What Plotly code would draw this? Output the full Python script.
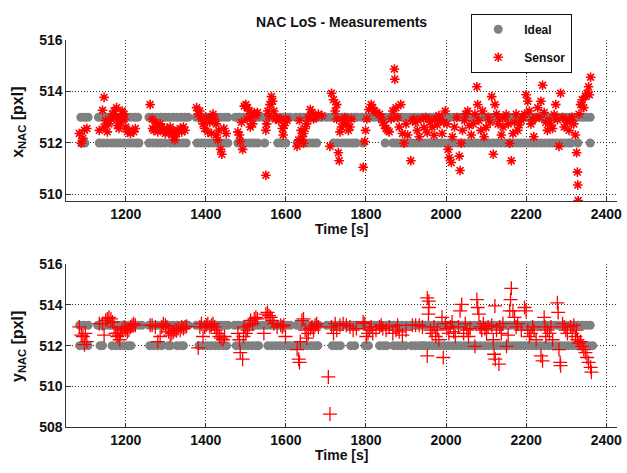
import plotly.graph_objects as go

# ---------------- data ----------------
x_ticks = [1200, 1400, 1600, 1800, 2000, 2200, 2400]
y_ticks_top = [510, 512, 514, 516]
y_ticks_bot = [508, 510, 512, 514, 516]

# Ideal x_NAC: epochs where the ideal value is 513 / 512
ideal_x_513_t = [1088, 1098, 1106,
    1132, 1142, 1152, 1162, 1172, 1182, 1192, 1202, 1212, 1222, 1230,
    1258, 1268, 1278, 1288, 1298, 1308, 1318, 1328, 1338, 1348, 1356,
    1376, 1386, 1396, 1406, 1416, 1426, 1436, 1446, 1455,
    1474, 1484, 1494, 1504, 1514, 1524, 1534,
    1545, 1555, 1565, 1575, 1585, 1595, 1605, 1611,
    1625, 1635, 1645, 1655, 1665, 1675, 1685, 1690,
    1702, 1712, 1722, 1732, 1742, 1752, 1762, 1772, 1778,
    1790, 1800, 1810, 1820, 1830, 1840, 1850, 1860, 1870, 1880, 1890, 1900,
    1910, 1920, 1930, 1940, 1950, 1960, 1970, 1980, 1990, 2000, 2010, 2020,
    2030, 2040, 2050, 2060, 2070, 2080, 2090, 2100, 2110, 2120, 2130, 2140,
    2150, 2160, 2170, 2180, 2190, 2200, 2210, 2220, 2230, 2240, 2250, 2260,
    2270, 2280, 2290, 2300, 2310, 2320, 2330, 2340, 2350, 2360]
ideal_x_512_t = [1090, 1098,
    1134, 1144, 1154,
    1166, 1176, 1186, 1196, 1206, 1216, 1226, 1233,
    1258, 1268, 1278, 1288, 1298,
    1312, 1322, 1332, 1342, 1351,
    1378, 1388, 1398, 1408, 1418, 1428, 1438, 1448, 1455,
    1480, 1490, 1500, 1510, 1520, 1530,
    1547,
    1580, 1590, 1600,
    1628, 1638, 1648, 1658, 1668, 1677,
    1719, 1729, 1739, 1749, 1759, 1769, 1776,
    1793, 1848,
    1867, 1877, 1887, 1897, 1907, 1917, 1927, 1937, 1947, 1957, 1967, 1977,
    1987, 1997, 2007, 2017, 2027, 2037, 2047, 2057, 2067, 2077, 2087, 2097,
    2107, 2117, 2127, 2137, 2147, 2157, 2167, 2177, 2187, 2197, 2207, 2217,
    2227, 2237, 2247, 2257, 2267, 2277, 2287, 2297, 2307, 2312,
    2329, 2360]

# Ideal y_NAC
ideal_y_513_t = [1085, 1095, 1106,
    1130, 1140, 1150, 1160, 1170, 1180, 1190, 1200, 1210, 1220, 1230, 1240,
    1258, 1268, 1278, 1288, 1298, 1308, 1318, 1328, 1338, 1348, 1356,
    1376, 1386, 1396, 1406, 1416, 1426, 1436, 1446, 1455,
    1472, 1482, 1492, 1502, 1512, 1522, 1532,
    1542, 1552, 1562, 1572, 1582, 1592, 1602, 1611,
    1628, 1638, 1648, 1658, 1668, 1678, 1682,
    1702, 1712, 1722, 1732, 1742, 1752, 1762, 1772, 1778,
    1790, 1800, 1810, 1820, 1830, 1840, 1850, 1860, 1870, 1880, 1890, 1900,
    1910, 1920, 1930, 1940, 1950, 1960, 1970, 1980, 1990, 2000, 2010, 2020,
    2030, 2040, 2050, 2060, 2070, 2080, 2090, 2100, 2110, 2120, 2130, 2140,
    2150, 2160, 2170, 2180, 2190, 2200, 2210, 2220, 2230, 2240, 2250, 2260,
    2270, 2280, 2290, 2300, 2310, 2320, 2330, 2340, 2350, 2360]
ideal_y_512_t = [1085, 1095, 1106,
    1136, 1142,
    1166, 1176, 1186, 1196, 1206, 1213,
    1260, 1270, 1280, 1290,
    1306, 1312,
    1328, 1338, 1344,
    1383, 1393, 1403, 1413, 1423, 1433, 1443, 1452,
    1476, 1486, 1496, 1506, 1516, 1526, 1532,
    1555, 1565, 1575, 1585, 1595, 1605, 1611,
    1624, 1634, 1644, 1654, 1664, 1674, 1680,
    1716, 1726, 1736,
    1762, 1772,
    1798, 1806,
    1834, 1844, 1852,
    1869, 1879, 1889, 1898,
    1914, 1924, 1934, 1942,
    1946, 1956, 1966, 1976, 1986, 1996, 2006, 2016, 2026, 2036, 2046, 2056,
    2066, 2076, 2086, 2096, 2106, 2116, 2126, 2136, 2146, 2156, 2166, 2176,
    2186, 2196, 2206, 2216, 2226, 2236, 2246, 2256, 2266, 2276, 2286, 2296,
    2306, 2316, 2326, 2336, 2346, 2356, 2366]

# Sensor x_NAC: (time [s], value [pxl])
sensor_x = [
    (1084, 512.37), (1089, 511.99), (1093, 512.18), (1097, 512.50), (1103, 512.56),
    (1134, 512.49), (1142, 513.27), (1146, 513.77), (1146, 512.62), (1150, 512.87),
    (1154, 512.43), (1158, 512.74), (1163, 512.93), (1167, 513.12), (1171, 513.24),
    (1175, 512.99), (1177, 513.37), (1179, 512.68), (1183, 512.56), (1185, 512.99),
    (1187, 512.80), (1191, 513.24), (1196, 513.12), (1196, 512.93), (1200, 512.62),
    (1204, 512.43), (1208, 512.49), (1212, 512.37), (1220, 512.43), (1224, 512.56),
    (1261, 513.49), (1266, 512.93), (1267, 512.56), (1270, 512.49), (1274, 512.80),
    (1278, 512.66), (1280, 512.43), (1286, 512.74), (1290, 512.62), (1294, 512.49),
    (1299, 512.37), (1303, 512.56), (1307, 512.43), (1311, 512.62), (1315, 512.31),
    (1319, 512.49), (1322, 512.12), (1323, 512.24), (1327, 512.37), (1331, 512.49),
    (1336, 512.56), (1340, 512.43), (1344, 512.62), (1348, 512.49),
    (1377, 513.37), (1381, 513.12), (1385, 513.24), (1389, 512.93), (1393, 512.74),
    (1397, 512.56), (1401, 512.99), (1405, 512.43), (1410, 512.80), (1414, 512.99),
    (1414, 512.37), (1418, 513.12), (1422, 512.93), (1426, 512.31), (1426, 512.74),
    (1430, 512.12), (1432, 512.49), (1437, 511.75), (1440, 511.56), (1445, 512.56),
    (1451, 512.37),
    (1480, 512.43), (1484, 512.31), (1486, 512.06), (1489, 512.80), (1492, 511.75),
    (1496, 513.43), (1500, 513.49), (1503, 512.93), (1504, 513.37), (1508, 513.24),
    (1511, 512.62), (1512, 512.99), (1517, 512.74), (1521, 513.18), (1525, 513.06),
    (1529, 513.18),
    (1550, 510.75), (1550, 512.49), (1552, 512.74), (1555, 513.24), (1558, 513.06),
    (1560, 513.49), (1564, 513.80), (1567, 513.62), (1570, 513.24), (1574, 512.93),
    (1578, 512.99), (1582, 512.87), (1587, 512.93), (1591, 512.56), (1593, 512.31),
    (1596, 512.68), (1600, 512.93), (1603, 512.87),
    (1628, 511.87), (1632, 512.12), (1634, 512.87), (1638, 512.49), (1641, 512.24),
    (1644, 511.99), (1644, 512.37), (1648, 512.56), (1652, 512.74), (1656, 512.99),
    (1661, 513.30), (1665, 513.18), (1669, 512.93), (1673, 512.99), (1681, 513.12),
    (1690, 513.06),
    (1710, 511.87), (1714, 513.93), (1719, 513.68), (1723, 513.24), (1727, 513.49),
    (1727, 512.93), (1731, 511.62), (1733, 511.31), (1735, 512.43), (1739, 512.62),
    (1743, 512.87), (1747, 512.99), (1751, 512.74), (1756, 512.49), (1760, 512.62),
    (1764, 512.93),
    (1793, 511.06), (1797, 512.06), (1799, 512.49), (1802, 512.93), (1807, 513.30),
    (1813, 513.49), (1817, 513.37), (1821, 513.24), (1825, 513.18), (1834, 513.12),
    (1838, 512.99), (1842, 512.80), (1846, 512.68), (1850, 512.56), (1854, 512.49),
    (1858, 512.43), (1863, 512.93), (1867, 513.24), (1871, 514.87), (1872, 514.47),
    (1875, 513.37), (1879, 512.99), (1883, 512.62), (1887, 513.49), (1891, 512.37),
    (1895, 511.99), (1900, 512.74), (1904, 512.31), (1912, 511.31), (1916, 512.87),
    (1920, 512.93), (1924, 512.80), (1928, 512.49), (1933, 512.24), (1937, 512.93),
    (1945, 512.60), (1949, 512.99), (1953, 512.40), (1957, 512.93), (1961, 512.80),
    (1965, 512.62), (1970, 512.30), (1974, 512.93), (1978, 512.70), (1982, 513.06),
    (1986, 512.90), (1990, 512.37), (1994, 512.80),
    (1998, 513.24), (2002, 512.74), (2005, 511.75), (2008, 511.43), (2013, 511.24),
    (2016, 512.24), (2021, 512.62), (2027, 512.99), (2033, 511.49), (2035, 510.93),
    (2038, 511.99), (2041, 512.49), (2046, 512.87), (2049, 513.12), (2054, 513.24),
    (2058, 512.68), (2063, 512.31), (2068, 512.74), (2072, 513.12), (2077, 514.18),
    (2079, 513.49), (2082, 512.87), (2087, 512.49), (2091, 513.24), (2095, 512.24),
    (2100, 512.60), (2105, 513.00), (2110, 512.80),
    (2114, 513.80), (2118, 511.56), (2122, 513.49), (2126, 513.12), (2130, 512.74),
    (2134, 512.93), (2138, 512.31), (2142, 512.62), (2147, 512.99), (2150, 513.10),
    (2155, 512.74), (2159, 511.99), (2163, 511.31), (2167, 512.37), (2171, 512.80),
    (2175, 513.12), (2179, 512.49), (2183, 512.70), (2188, 512.87), (2192, 513.00),
    (2196, 513.12), (2200, 513.87), (2204, 513.62), (2208, 513.24), (2212, 512.74),
    (2216, 512.90), (2219, 512.24), (2225, 512.99), (2229, 513.37), (2233, 513.00),
    (2237, 513.62), (2241, 514.24), (2245, 513.18), (2249, 512.80), (2253, 512.49),
    (2258, 512.87), (2262, 512.70), (2266, 512.56), (2270, 513.10), (2274, 513.49),
    (2278, 512.90), (2282, 511.87), (2286, 513.93), (2291, 512.99), (2295, 512.62),
    (2299, 512.93), (2303, 512.80), (2307, 512.49), (2311, 512.90), (2315, 513.00),
    (2319, 512.74), (2323, 512.31), (2326, 511.62), (2328, 510.87), (2329, 510.37),
    (2330, 509.77), (2332, 513.12), (2336, 513.49), (2340, 513.68), (2344, 513.37),
    (2348, 513.80), (2352, 513.93), (2356, 514.18), (2358, 513.87), (2361, 514.55),
]

# Sensor y_NAC: (time [s], value [pxl])
sensor_y = [
    (1084, 512.92), (1089, 512.52), (1093, 512.45), (1097, 512.05), (1099, 512.60),
    (1103, 512.20),
    (1134, 513.08), (1142, 513.08), (1146, 512.52), (1150, 513.24), (1154, 513.31),
    (1158, 513.39), (1163, 513.31), (1167, 513.16), (1171, 512.92), (1175, 512.60),
    (1179, 512.45), (1179, 512.60), (1183, 512.52), (1185, 512.29), (1187, 512.60),
    (1191, 512.76), (1196, 512.92), (1200, 512.84), (1204, 512.68), (1208, 512.76),
    (1212, 512.92), (1216, 513.00), (1220, 513.08), (1224, 513.00),
    (1261, 513.00), (1266, 513.00), (1274, 512.92), (1280, 512.20), (1286, 512.45),
    (1290, 512.92), (1294, 513.08), (1299, 513.00), (1303, 512.92), (1307, 512.68),
    (1311, 512.52), (1315, 512.60), (1319, 512.68), (1323, 512.76), (1327, 512.73),
    (1331, 512.84), (1336, 512.76), (1340, 512.92), (1344, 512.84), (1348, 512.92),
    (1352, 512.95),
    (1381, 511.89), (1385, 512.92), (1389, 513.08), (1393, 512.45), (1397, 512.92),
    (1401, 513.00), (1405, 513.08), (1410, 512.92), (1414, 513.00), (1418, 513.08),
    (1422, 512.92), (1426, 512.76), (1430, 512.60), (1434, 512.45), (1438, 512.37),
    (1443, 512.29), (1447, 512.45),
    (1480, 512.60), (1484, 512.29), (1486, 511.66), (1492, 511.34), (1494, 512.45),
    (1496, 512.92), (1500, 512.60), (1504, 512.76), (1508, 513.00), (1512, 513.24),
    (1517, 513.08), (1521, 513.31), (1525, 513.39), (1529, 513.31),
    (1545, 512.60), (1550, 513.55), (1554, 513.63), (1558, 513.47), (1562, 513.39),
    (1566, 513.24), (1570, 513.08), (1578, 512.92), (1587, 513.00), (1591, 512.92),
    (1595, 513.00), (1599, 512.45),
    (1628, 511.81), (1632, 511.34), (1634, 511.18), (1636, 512.20), (1640, 513.24),
    (1644, 513.31), (1648, 512.76), (1652, 512.37), (1656, 512.60), (1661, 512.84),
    (1665, 512.92), (1669, 512.76), (1673, 513.00), (1677, 513.08), (1681, 512.92),
    (1706, 510.47), (1710, 508.65),
    (1714, 512.92), (1719, 512.60), (1723, 513.08), (1727, 512.76), (1735, 513.00),
    (1743, 513.08), (1751, 513.00), (1760, 512.92), (1768, 512.76), (1776, 512.84),
    (1793, 513.16), (1797, 513.08), (1801, 512.45), (1805, 512.60), (1809, 512.76),
    (1813, 512.92), (1817, 512.60), (1825, 512.76), (1834, 512.92), (1838, 513.00),
    (1842, 512.84), (1850, 512.76), (1858, 512.92), (1867, 512.60), (1875, 512.76),
    (1879, 513.00), (1883, 512.68), (1891, 512.52), (1900, 512.76),
    (1916, 513.00), (1924, 513.00), (1933, 513.00), (1941, 512.92),
    (1953, 514.34), (1957, 514.18), (1957, 513.87), (1956, 513.55), (1953, 511.50),
    (1961, 512.76), (1965, 512.60), (1970, 512.92), (1974, 512.45), (1978, 512.76),
    (1982, 512.29),
    (1990, 513.39), (1993, 511.42), (1998, 513.08), (2002, 512.84), (2007, 512.60),
    (2011, 512.92), (2015, 513.16), (2019, 512.68), (2023, 512.45), (2031, 512.92),
    (2035, 513.71), (2039, 514.02), (2044, 512.60), (2048, 513.08), (2052, 512.76),
    (2056, 512.45), (2060, 512.84), (2072, 511.97), (2077, 514.26), (2079, 513.87),
    (2082, 513.55), (2085, 512.92), (2089, 512.76), (2093, 513.08), (2097, 512.84),
    (2101, 512.60), (2105, 512.92), (2114, 513.00), (2118, 512.29), (2120, 511.58),
    (2123, 511.34), (2122, 513.95), (2126, 512.76), (2132, 511.10), (2134, 512.92),
    (2138, 512.60), (2142, 513.08), (2151, 511.97), (2155, 512.52), (2159, 513.71),
    (2161, 514.26), (2163, 514.81), (2167, 513.71), (2171, 513.39), (2175, 512.92),
    (2179, 513.08), (2188, 512.76), (2196, 513.87), (2200, 513.71), (2204, 512.76),
    (2208, 512.45), (2212, 512.60), (2216, 512.92), (2220, 512.76), (2225, 512.29),
    (2237, 511.50), (2241, 511.26), (2245, 513.39), (2247, 512.92), (2249, 512.45),
    (2253, 512.76), (2258, 512.60), (2262, 512.92), (2266, 512.29), (2278, 514.10),
    (2280, 513.63), (2282, 511.81), (2285, 511.18), (2286, 511.02), (2291, 513.08),
    (2295, 512.92), (2299, 512.76), (2303, 512.60), (2311, 512.92), (2315, 512.60),
    (2319, 513.00), (2323, 512.45), (2326, 512.76), (2328, 512.29), (2332, 512.13),
    (2336, 512.20), (2340, 511.97), (2344, 511.81), (2348, 511.66), (2352, 511.42),
    (2356, 511.18), (2361, 510.94), (2363, 510.70),
]

# ---------------- figure ----------------
GRAY = "#808080"
RED = "#ff0000"
FONT = "Liberation Sans"

fig = go.Figure()

def ideal_trace(t513, t512, xa, ya, show):
    t = list(t513) + list(t512)
    v = [513] * len(t513) + [512] * len(t512)
    return go.Scatter(x=t, y=v, mode="markers", name="Ideal", xaxis=xa, yaxis=ya,
                      legendgroup="a", showlegend=show,
                      marker=dict(color=GRAY, size=9, line=dict(width=0)))

fig.add_trace(ideal_trace(ideal_x_513_t, ideal_x_512_t, "x", "y", True))
fig.add_trace(go.Scatter(x=[p[0] for p in sensor_x], y=[p[1] for p in sensor_x],
                         mode="markers", name="Sensor", xaxis="x", yaxis="y",
                         legendgroup="b", showlegend=True,
                         marker=dict(symbol="asterisk-open", size=8, color=RED,
                                     line=dict(color=RED, width=1.6))))
fig.add_trace(ideal_trace(ideal_y_513_t, ideal_y_512_t, "x2", "y2", False))
fig.add_trace(go.Scatter(x=[p[0] for p in sensor_y], y=[p[1] for p in sensor_y],
                         mode="markers", name="Sensor", xaxis="x2", yaxis="y2",
                         showlegend=False,
                         marker=dict(symbol="cross-thin-open", size=10, color=RED,
                                     line=dict(color=RED, width=1.3))))

axis_common = dict(showgrid=True, griddash="1px,2px", gridcolor="#333", gridwidth=1,
                   showline=True, linecolor="#333", linewidth=1.2, ticks="inside",
                   ticklen=4, tickcolor="#333", zeroline=False, mirror=False,
                   ticklabeloverflow="allow",
                   tickfont=dict(family=FONT, size=14, color="#111", weight="bold"))

W, H = 627, 473
xdom = [67 / W, 622 / W]
fig.update_layout(
    width=W, height=H, margin=dict(l=0, r=0, t=0, b=0),
    paper_bgcolor="white", plot_bgcolor="white",
    font=dict(family=FONT, color="#111"),
    xaxis=dict(domain=xdom, range=[1052, 2427], tickvals=x_ticks, anchor="y", **axis_common),
    yaxis=dict(domain=[1 - 200 / H, 1 - 33 / H], range=[509.74, 516], tickvals=y_ticks_top,
               anchor="x", **axis_common),
    xaxis2=dict(domain=xdom, range=[1052, 2427], tickvals=x_ticks, anchor="y2", **axis_common),
    yaxis2=dict(domain=[1 - 434 / H, 1 - 265 / H], range=[508, 516], tickvals=y_ticks_bot,
                anchor="x2", **axis_common),
    showlegend=True,
    legend=dict(x=475 / W, y=1 - 6 / H, xanchor="left", yanchor="top",
                bgcolor="white", bordercolor="#111", borderwidth=1,
                traceorder="grouped", tracegroupgap=9, itemwidth=42,
                font=dict(family=FONT, size=12, color="#111", weight="bold")),
)

def ann(text, x, y, size=14, angle=0):
    fig.add_annotation(text=text, x=x / W, y=1 - y / H, xref="paper", yref="paper",
                       showarrow=False, textangle=angle, xanchor="center", yanchor="middle",
                       font=dict(family=FONT, size=size, color="#111", weight="bold"))

ann("NAC LoS - Measurements", 344, 15)
ann("Time [s]", 344, 229)
ann("Time [s]", 344, 463)
ann("x<sub>NAC</sub> [pxl]", 18, 118, size=16, angle=-90)
ann("y<sub>NAC</sub> [pxl]", 18, 350, size=16, angle=-90)

fig.write_html("out.html")
